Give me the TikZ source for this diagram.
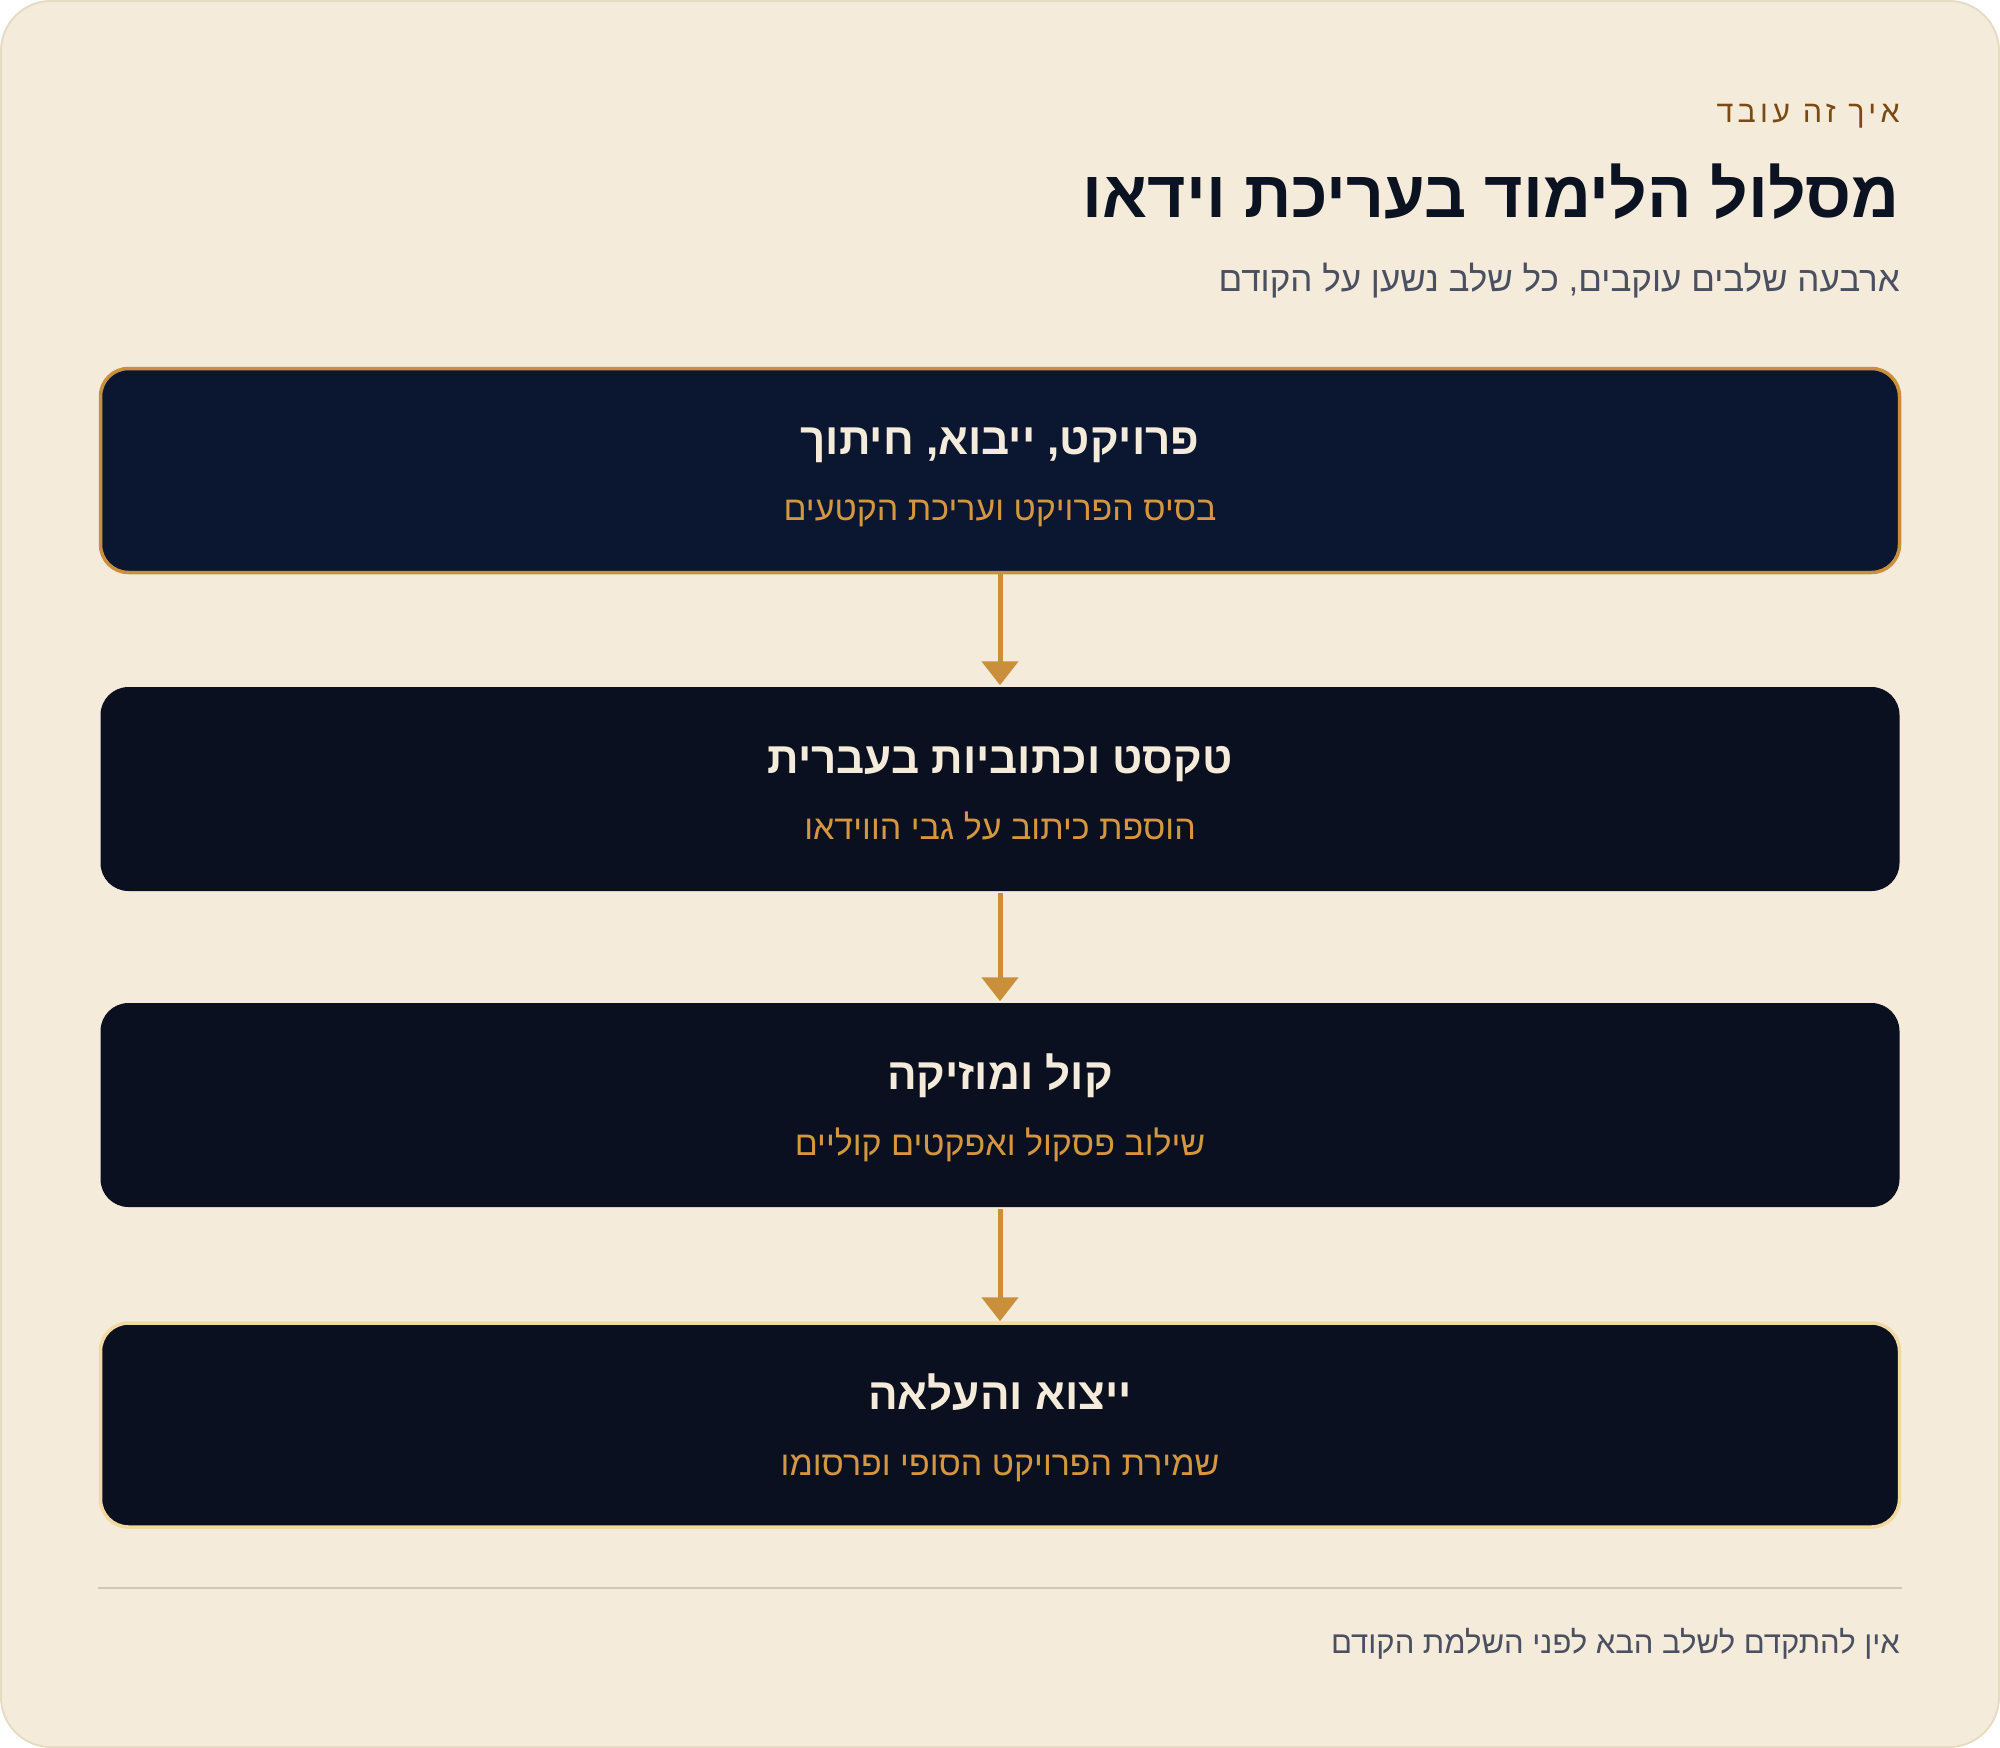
\documentclass[tikz,border=0pt]{standalone}
\usepackage{fontspec}
\setmainfont{Liberation Sans}
\newfontfamily\heb[Script=Hebrew]{Liberation Sans}
\newfontfamily\hebls[Script=Hebrew,LetterSpace=14]{Liberation Sans}
\TeXXeTstate=1
\usetikzlibrary{arrows.meta,calc}
\definecolor{bgc}{HTML}{F5EBDA}
\definecolor{cardline}{HTML}{E6DCC3}
\definecolor{navyA}{HTML}{0B1731}
\definecolor{navyB}{HTML}{0A1020}
\definecolor{goldc}{HTML}{C98F3D}
\definecolor{lightgold}{HTML}{F2D9A2}
\definecolor{titlec}{HTML}{0B1221}
\definecolor{greyc}{HTML}{4A5061}
\definecolor{brownc}{HTML}{7A4A12}
\definecolor{creamc}{HTML}{F5EBDA}
\definecolor{subgold}{HTML}{D4963E}
\definecolor{sepc}{HTML}{CFC7B8}
\tikzset{
  stagebox/.style={rectangle, rounded corners=28pt, minimum width=1799pt, minimum height=204pt, inner sep=0pt, fill=navyB, draw=none, line width=3.5pt},
  stagetitle/.style={inner sep=0pt, anchor=base, text=creamc, font=\heb\bfseries\fontsize{44}{50}\selectfont},
  stagesub/.style={inner sep=0pt, anchor=base, text=subgold, font=\heb\fontsize{34}{40}\selectfont},
  flowarrow/.style={draw=goldc, line width=5pt, -{Triangle[width=36pt,length=24pt]}}
}
\begin{document}
\begin{tikzpicture}[x=1pt,y=-1pt]
\useasboundingbox (0,0) rectangle (2000,1748);
\fill[bgc, draw=cardline, line width=2pt, rounded corners=50pt] (1,1) rectangle (1999,1747);
% header
\node[anchor=east, inner sep=0pt, text=brownc, font=\hebls\fontsize{30.5}{36}\selectfont] (kicker) at (1900,116) {\beginR איך זה עובד\endR};
\node[anchor=east, inner sep=0pt, text=titlec, font=\heb\bfseries\fontsize{66}{76}\selectfont] (title) at (1900,192) {\beginR מסלול הלימוד בעריכת וידאו\endR};
\node[anchor=east, inner sep=0pt, text=greyc, font=\heb\fontsize{35}{40}\selectfont] (subtitle) at (1900,281) {\beginR ארבעה שלבים עוקבים, כל שלב נשען על הקודם\endR};
% boxes
\node[stagebox, fill=navyA, draw=goldc] (b1) at (1000,470.5) {};
\node[stagebox] (b2) at (1000,789) {};
\node[stagebox] (b3) at (1000,1105) {};
\node[stagebox, draw=lightgold] (b4) at (1000,1425) {};
% texts
\node[stagetitle] (t1) at ($(b1.center)+(0,-16)$) {\beginR פרויקט, ייבוא, חיתוך\endR};
\node[stagesub] (s1) at ($(b1.center)+(0,50)$) {\beginR בסיס הפרויקט ועריכת הקטעים\endR};
\node[stagetitle] (t2) at ($(b2.center)+(0,-16)$) {\beginR טקסט וכתוביות בעברית\endR};
\node[stagesub] (s2) at ($(b2.center)+(0,50)$) {\beginR הוספת כיתוב על גבי הווידאו\endR};
\node[stagetitle] (t3) at ($(b3.center)+(0,-16)$) {\beginR קול ומוזיקה\endR};
\node[stagesub] (s3) at ($(b3.center)+(0,50)$) {\beginR שילוב פסקול ואפקטים קוליים\endR};
\node[stagetitle] (t4) at ($(b4.center)+(0,-16)$) {\beginR ייצוא והעלאה\endR};
\node[stagesub] (s4) at ($(b4.center)+(0,50)$) {\beginR שמירת הפרויקט הסופי ופרסומו\endR};
% arrows
\draw[flowarrow] (b1.south) -- (b2.north);
\draw[flowarrow] (b2.south) -- (b3.north);
\draw[flowarrow] (b3.south) -- (b4.north);
% footer
\coordinate (sepL) at (98,1588);
\coordinate (sepR) at (1902,1588);
\draw[sepc, line width=1.5pt] (sepL) -- (sepR);
\node[anchor=east, inner sep=0pt, text=greyc, font=\heb\fontsize{31}{36}\selectfont] (footer) at (1900,1644) {\beginR אין להתקדם לשלב הבא לפני השלמת הקודם\endR};
\end{tikzpicture}
\end{document}
